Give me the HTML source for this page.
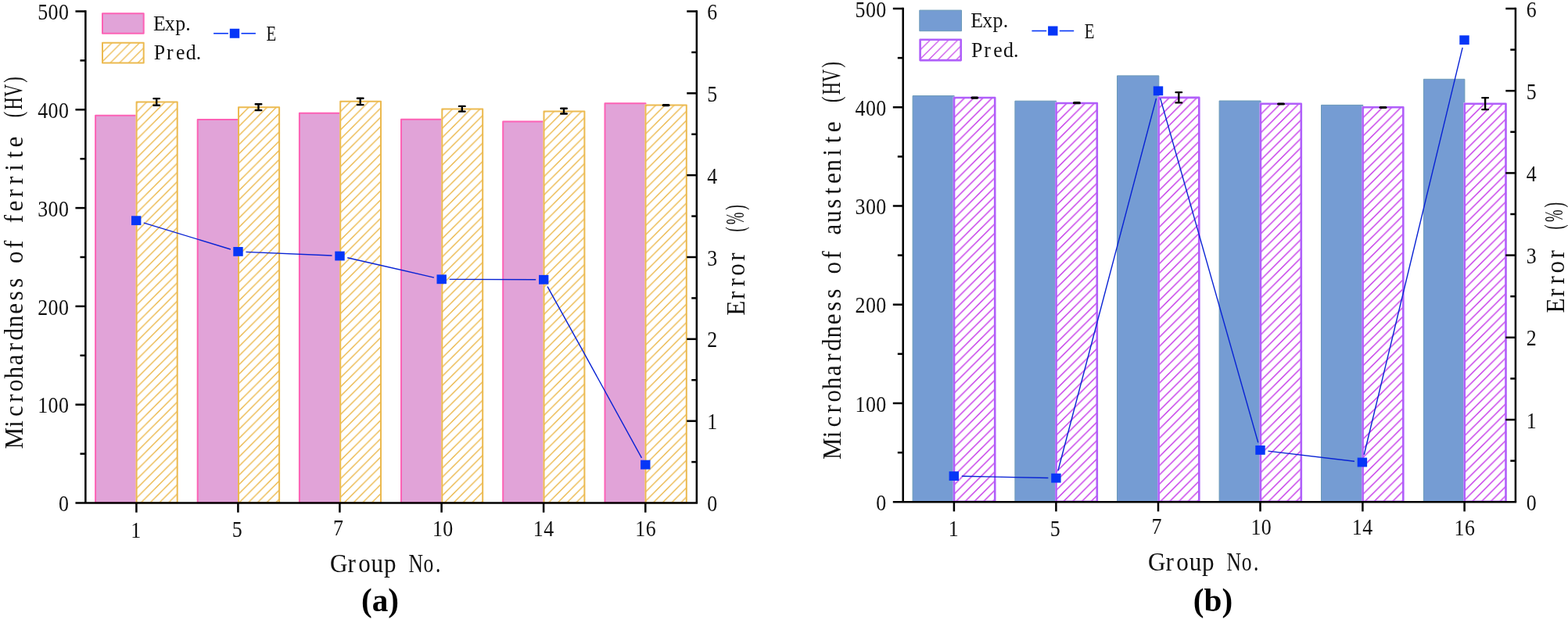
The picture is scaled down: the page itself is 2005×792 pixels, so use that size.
<!DOCTYPE html>
<html lang="en"><head><meta charset="utf-8">
<style>html,body{margin:0;padding:0;background:#fff;}body{width:2005px;height:792px;overflow:hidden;}svg{display:block;}text{font-family:'Liberation Serif', 'DejaVu Serif', serif;fill:#000;}text.m{fill:#101010;text-anchor:middle;}</style>
</head><body>
<svg width="2005" height="792" viewBox="0 0 2005 792">
<defs>
<pattern id="h0" patternUnits="userSpaceOnUse" x="173.6" y="129.4" width="11.75" height="11.75"><path d="M-2 -6.35 L-6.35 -2 M-2 5.4 L5.4 -2 M-2 17.15 L17.15 -2" stroke="#ecba50" stroke-width="1.5" fill="none"/></pattern><pattern id="h1" patternUnits="userSpaceOnUse" x="304" y="136.2" width="11.75" height="11.75"><path d="M-2 -6.35 L-6.35 -2 M-2 5.4 L5.4 -2 M-2 17.15 L17.15 -2" stroke="#ecba50" stroke-width="1.5" fill="none"/></pattern><pattern id="h2" patternUnits="userSpaceOnUse" x="434.2" y="128.7" width="11.75" height="11.75"><path d="M-2 -6.35 L-6.35 -2 M-2 5.4 L5.4 -2 M-2 17.15 L17.15 -2" stroke="#ecba50" stroke-width="1.5" fill="none"/></pattern><pattern id="h3" patternUnits="userSpaceOnUse" x="564.3" y="138.5" width="11.75" height="11.75"><path d="M-2 -6.35 L-6.35 -2 M-2 5.4 L5.4 -2 M-2 17.15 L17.15 -2" stroke="#ecba50" stroke-width="1.5" fill="none"/></pattern><pattern id="h4" patternUnits="userSpaceOnUse" x="694.5" y="141.4" width="11.75" height="11.75"><path d="M-2 -6.35 L-6.35 -2 M-2 5.4 L5.4 -2 M-2 17.15 L17.15 -2" stroke="#ecba50" stroke-width="1.5" fill="none"/></pattern><pattern id="h5" patternUnits="userSpaceOnUse" x="824.5" y="133.5" width="11.75" height="11.75"><path d="M-2 -6.35 L-6.35 -2 M-2 5.4 L5.4 -2 M-2 17.15 L17.15 -2" stroke="#ecba50" stroke-width="1.5" fill="none"/></pattern><pattern id="h6" patternUnits="userSpaceOnUse" x="130" y="54.75" width="11.75" height="11.75"><path d="M-2 -8.25 L-8.25 -2 M-2 3.5 L3.5 -2 M-2 15.25 L15.25 -2" stroke="#ecba50" stroke-width="1.3" fill="none"/></pattern><pattern id="h7" patternUnits="userSpaceOnUse" x="1218.7" y="123.7" width="11.75" height="11.75"><path d="M-2 -5.15 L-5.15 -2 M-2 6.6 L6.6 -2 M-2 18.35 L18.35 -2" stroke="#c843ea" stroke-width="1.5" fill="none"/></pattern><pattern id="h8" patternUnits="userSpaceOnUse" x="1349.2" y="130.7" width="11.75" height="11.75"><path d="M-2 -5.15 L-5.15 -2 M-2 6.6 L6.6 -2 M-2 18.35 L18.35 -2" stroke="#c843ea" stroke-width="1.5" fill="none"/></pattern><pattern id="h9" patternUnits="userSpaceOnUse" x="1480.3" y="123.6" width="11.75" height="11.75"><path d="M-2 -5.15 L-5.15 -2 M-2 6.6 L6.6 -2 M-2 18.35 L18.35 -2" stroke="#c843ea" stroke-width="1.5" fill="none"/></pattern><pattern id="h10" patternUnits="userSpaceOnUse" x="1610.6" y="131.5" width="11.75" height="11.75"><path d="M-2 -5.15 L-5.15 -2 M-2 6.6 L6.6 -2 M-2 18.35 L18.35 -2" stroke="#c843ea" stroke-width="1.5" fill="none"/></pattern><pattern id="h11" patternUnits="userSpaceOnUse" x="1741.3" y="135.9" width="11.75" height="11.75"><path d="M-2 -5.15 L-5.15 -2 M-2 6.6 L6.6 -2 M-2 18.35 L18.35 -2" stroke="#c843ea" stroke-width="1.5" fill="none"/></pattern><pattern id="h12" patternUnits="userSpaceOnUse" x="1871.4" y="131.4" width="11.75" height="11.75"><path d="M-2 -5.15 L-5.15 -2 M-2 6.6 L6.6 -2 M-2 18.35 L18.35 -2" stroke="#c843ea" stroke-width="1.5" fill="none"/></pattern><pattern id="h13" patternUnits="userSpaceOnUse" x="1175.3" y="50.5" width="11.75" height="11.75"><path d="M-2 -6.75 L-6.75 -2 M-2 5 L5 -2 M-2 16.75 L16.75 -2" stroke="#c843ea" stroke-width="1.3" fill="none"/></pattern>
</defs>
<rect x="0" y="0" width="2005" height="792" fill="#fff"/>
<rect x="122.1" y="147.7" width="52.5" height="495.6" fill="#e1a3d8" stroke="#fc62b5" stroke-width="2" stroke-linejoin="round" />
<rect x="173.6" y="129.4" width="54.1" height="514.9" fill="#fff" />
<rect x="174.6" y="130.4" width="52.1" height="512.9" fill="url(#h0)" stroke="#ecba50" stroke-width="2" stroke-linejoin="round" />
<rect x="252.7" y="152.9" width="52.3" height="490.4" fill="#e1a3d8" stroke="#fc62b5" stroke-width="2" stroke-linejoin="round" />
<rect x="304" y="136.2" width="54.1" height="508.1" fill="#fff" />
<rect x="305" y="137.2" width="52.1" height="506.1" fill="url(#h1)" stroke="#ecba50" stroke-width="2" stroke-linejoin="round" />
<rect x="382.9" y="144.8" width="52.3" height="498.5" fill="#e1a3d8" stroke="#fc62b5" stroke-width="2" stroke-linejoin="round" />
<rect x="434.2" y="128.7" width="53.8" height="515.6" fill="#fff" />
<rect x="435.2" y="129.7" width="51.8" height="513.6" fill="url(#h2)" stroke="#ecba50" stroke-width="2" stroke-linejoin="round" />
<rect x="513" y="152.7" width="52.3" height="490.6" fill="#e1a3d8" stroke="#fc62b5" stroke-width="2" stroke-linejoin="round" />
<rect x="564.3" y="138.5" width="53.9" height="505.8" fill="#fff" />
<rect x="565.3" y="139.5" width="51.9" height="503.8" fill="url(#h3)" stroke="#ecba50" stroke-width="2" stroke-linejoin="round" />
<rect x="643.2" y="155.6" width="52.3" height="487.7" fill="#e1a3d8" stroke="#fc62b5" stroke-width="2" stroke-linejoin="round" />
<rect x="694.5" y="141.4" width="53.9" height="502.9" fill="#fff" />
<rect x="695.5" y="142.4" width="51.9" height="500.9" fill="url(#h4)" stroke="#ecba50" stroke-width="2" stroke-linejoin="round" />
<rect x="773.5" y="132.3" width="52" height="511" fill="#e1a3d8" stroke="#fc62b5" stroke-width="2" stroke-linejoin="round" />
<rect x="824.5" y="133.5" width="54.3" height="510.8" fill="#fff" />
<rect x="825.5" y="134.5" width="52.3" height="508.8" fill="url(#h5)" stroke="#ecba50" stroke-width="2" stroke-linejoin="round" />
<path d="M196.4 126.1 H204 M196.4 134.7 H204 M200.2 126.1 V134.7" stroke="#000" stroke-width="2.4" stroke-linecap="round" fill="none"/>
<path d="M326.7 133.2 H334.3 M326.7 141.1 H334.3 M330.5 133.2 V141.1" stroke="#000" stroke-width="2.4" stroke-linecap="round" fill="none"/>
<path d="M456.9 125.7 H464.5 M456.9 134.1 H464.5 M460.7 125.7 V134.1" stroke="#000" stroke-width="2.4" stroke-linecap="round" fill="none"/>
<path d="M587 135.9 H594.6 M587 142.6 H594.6 M590.8 135.9 V142.6" stroke="#000" stroke-width="2.4" stroke-linecap="round" fill="none"/>
<path d="M717.2 138.8 H724.8 M717.2 145.5 H724.8 M721 138.8 V145.5" stroke="#000" stroke-width="2.4" stroke-linecap="round" fill="none"/>
<line x1="848.2" y1="134.6" x2="855" y2="134.6" stroke="#000" stroke-width="3.2" stroke-linecap="round"/>
<line x1="109.35" y1="13.25" x2="109.35" y2="643.5" stroke="#000" stroke-width="2.5" />
<line x1="890.85" y1="13.25" x2="890.85" y2="643.5" stroke="#000" stroke-width="2.5" />
<line x1="96.45" y1="643.5" x2="892.1" y2="643.5" stroke="#000" stroke-width="2.5" />
<line x1="102.45" y1="580.6" x2="109.35" y2="580.6" stroke="#000" stroke-width="2.5" />
<line x1="96.45" y1="517.7" x2="109.35" y2="517.7" stroke="#000" stroke-width="2.5" />
<line x1="102.45" y1="454.8" x2="109.35" y2="454.8" stroke="#000" stroke-width="2.5" />
<line x1="96.45" y1="391.9" x2="109.35" y2="391.9" stroke="#000" stroke-width="2.5" />
<line x1="102.45" y1="329" x2="109.35" y2="329" stroke="#000" stroke-width="2.5" />
<line x1="96.45" y1="266.1" x2="109.35" y2="266.1" stroke="#000" stroke-width="2.5" />
<line x1="102.45" y1="203.2" x2="109.35" y2="203.2" stroke="#000" stroke-width="2.5" />
<line x1="96.45" y1="140.3" x2="109.35" y2="140.3" stroke="#000" stroke-width="2.5" />
<line x1="102.45" y1="77.4" x2="109.35" y2="77.4" stroke="#000" stroke-width="2.5" />
<line x1="96.45" y1="14.5" x2="109.35" y2="14.5" stroke="#000" stroke-width="2.5" />
<line x1="884.25" y1="591.08" x2="890.85" y2="591.08" stroke="#000" stroke-width="2.5" />
<line x1="878.25" y1="538.67" x2="890.85" y2="538.67" stroke="#000" stroke-width="2.5" />
<line x1="884.25" y1="486.25" x2="890.85" y2="486.25" stroke="#000" stroke-width="2.5" />
<line x1="878.25" y1="433.83" x2="890.85" y2="433.83" stroke="#000" stroke-width="2.5" />
<line x1="884.25" y1="381.42" x2="890.85" y2="381.42" stroke="#000" stroke-width="2.5" />
<line x1="878.25" y1="329" x2="890.85" y2="329" stroke="#000" stroke-width="2.5" />
<line x1="884.25" y1="276.58" x2="890.85" y2="276.58" stroke="#000" stroke-width="2.5" />
<line x1="878.25" y1="224.17" x2="890.85" y2="224.17" stroke="#000" stroke-width="2.5" />
<line x1="884.25" y1="171.75" x2="890.85" y2="171.75" stroke="#000" stroke-width="2.5" />
<line x1="878.25" y1="119.33" x2="890.85" y2="119.33" stroke="#000" stroke-width="2.5" />
<line x1="884.25" y1="66.92" x2="890.85" y2="66.92" stroke="#000" stroke-width="2.5" />
<line x1="878.25" y1="14.5" x2="890.85" y2="14.5" stroke="#000" stroke-width="2.5" />
<line x1="174.4" y1="643.5" x2="174.4" y2="655.7" stroke="#000" stroke-width="2.5" />
<line x1="304.4" y1="643.5" x2="304.4" y2="655.7" stroke="#000" stroke-width="2.5" />
<line x1="434.4" y1="643.5" x2="434.4" y2="655.7" stroke="#000" stroke-width="2.5" />
<line x1="564.6" y1="643.5" x2="564.6" y2="655.7" stroke="#000" stroke-width="2.5" />
<line x1="695.1" y1="643.5" x2="695.1" y2="655.7" stroke="#000" stroke-width="2.5" />
<line x1="825.3" y1="643.5" x2="825.3" y2="655.7" stroke="#000" stroke-width="2.5" />
<line x1="183.77" y1="285.11" x2="294.93" y2="318.99" stroke="#0822d4" stroke-width="1.4" />
<line x1="314.49" y1="322.33" x2="424.51" y2="327.07" stroke="#0822d4" stroke-width="1.4" />
<line x1="444.25" y1="329.73" x2="554.95" y2="355.07" stroke="#0822d4" stroke-width="1.4" />
<line x1="574.7" y1="357.34" x2="685.2" y2="357.76" stroke="#0822d4" stroke-width="1.4" />
<line x1="700.02" y1="366.56" x2="820.48" y2="585.84" stroke="#0822d4" stroke-width="1.4" />
<rect x="168" y="276.3" width="12.4" height="11.8" fill="#0636f7"/>
<rect x="298.3" y="316" width="12.4" height="11.8" fill="#0636f7"/>
<rect x="428.3" y="321.6" width="12.4" height="11.8" fill="#0636f7"/>
<rect x="558.5" y="351.4" width="12.4" height="11.8" fill="#0636f7"/>
<rect x="689" y="351.9" width="12.4" height="11.8" fill="#0636f7"/>
<rect x="819.1" y="588.7" width="12.4" height="11.8" fill="#0636f7"/>
<text class="m" transform="translate(81.45 654.1) scale(0.88 1)" x="0" y="0" font-size="29.4">0</text>
<text class="m" transform="translate(54.65 528.3) scale(0.88 1)" x="0 15.23 30.45" y="0" font-size="29.4">100</text>
<text class="m" transform="translate(54.65 402.5) scale(0.88 1)" x="0 15.23 30.45" y="0" font-size="29.4">200</text>
<text class="m" transform="translate(54.65 276.7) scale(0.88 1)" x="0 15.23 30.45" y="0" font-size="29.4">300</text>
<text class="m" transform="translate(54.65 150.9) scale(0.88 1)" x="0 15.23 30.45" y="0" font-size="29.4">400</text>
<text class="m" transform="translate(54.65 25.1) scale(0.88 1)" x="0 15.23 30.45" y="0" font-size="29.4">500</text>
<text class="m" transform="translate(910.65 654.1) scale(0.88 1)" x="0" y="0" font-size="29.4">0</text>
<text class="m" transform="translate(910.65 549.27) scale(0.88 1)" x="0" y="0" font-size="29.4">1</text>
<text class="m" transform="translate(910.65 444.43) scale(0.88 1)" x="0" y="0" font-size="29.4">2</text>
<text class="m" transform="translate(910.65 339.6) scale(0.88 1)" x="0" y="0" font-size="29.4">3</text>
<text class="m" transform="translate(910.65 234.77) scale(0.88 1)" x="0" y="0" font-size="29.4">4</text>
<text class="m" transform="translate(910.65 129.93) scale(0.88 1)" x="0" y="0" font-size="29.4">5</text>
<text class="m" transform="translate(910.65 25.1) scale(0.88 1)" x="0" y="0" font-size="29.4">6</text>
<text class="m" transform="translate(173.7 687.8) scale(0.88 1)" x="0" y="0" font-size="29.4">1</text>
<text class="m" transform="translate(303.1 687) scale(0.88 1)" x="0" y="0" font-size="29.4">5</text>
<text class="m" transform="translate(432.4 685.2) scale(0.88 1)" x="0" y="0" font-size="29.4">7</text>
<text class="m" transform="translate(559.4 685.9) scale(0.88 1)" x="0 15.23" y="0" font-size="29.4">10</text>
<text class="m" transform="translate(688.3 686) scale(0.88 1)" x="0 15.23" y="0" font-size="29.4">14</text>
<text class="m" transform="translate(818.8 686) scale(0.88 1)" x="0 15.23" y="0" font-size="29.4">16</text>
<text class="m" transform="translate(433.2 732.2) scale(0.93 1)" x="0 17.63 35.27 52.9 70.54 88.17 105.81 123.44 136.49" y="0" font-size="33.5">Group <tspan textLength="40.44" lengthAdjust="spacingAndGlyphs">No.</tspan></text>
<text class="m" transform="translate(29.4 558.8) rotate(-90) scale(0.93 1)" x="-1.94 17.63 35.27 52.9 70.54 88.17 105.81 123.44 141.08 158.71 176.34 193.98 211.61 229.25 246.88 264.52 282.15 299.78 317.42 335.05 352.69 370.32 387.96 405.59 423.23 443.33 458.49 476.13 491.29" y="0" font-size="33.5">Microhardness of ferrite <tspan dy="-1.6" textLength="50.9" lengthAdjust="spacingAndGlyphs">(HV)</tspan></text>
<text class="m" transform="translate(952.3 394.2) rotate(-90) scale(0.93 1)" x="0 17.63 35.27 52.9 70.54 88.17 108.28 123.44 138.61" y="0" font-size="33.5">Error <tspan dy="-1.6" textLength="30.13" lengthAdjust="spacingAndGlyphs">(%)</tspan></text>
<text x="486" y="782.4" font-size="41.2" font-weight="bold" text-anchor="middle">(a)</text>
<rect x="131" y="17.25" width="52.7" height="25.6" fill="#e1a3d8" stroke="#fc62b5" stroke-width="2" stroke-linejoin="round" />
<rect x="131" y="54.75" width="52.7" height="25.7" fill="url(#h6)" stroke="#ecba50" stroke-width="2" stroke-linejoin="round" />
<text class="m" transform="translate(203.9 38.75) scale(0.93 1)" x="0 14.41 28.82 39.48" y="0" font-size="27.8">Exp.</text>
<text class="m" transform="translate(203.9 76.25) scale(0.93 1)" x="0 14.41 28.82 43.23 53.89" y="0" font-size="27.8">Pred.</text>
<line x1="273.1" y1="42.75" x2="291.9" y2="42.75" stroke="#0636f7" stroke-width="1.6" />
<line x1="308.5" y1="42.75" x2="326.9" y2="42.75" stroke="#0636f7" stroke-width="1.6" />
<rect x="293.8" y="36.75" width="12.4" height="12" fill="#0636f7"/>
<text class="m" transform="translate(346.9 52.25) scale(0.75 1)" x="0" y="0" font-size="27.8">E</text>
<rect x="1167.1" y="122.6" width="53.1" height="519.9" fill="#759cd3" stroke="#6b99b8" stroke-width="1" stroke-linejoin="round" />
<rect x="1218.7" y="123.7" width="54.8" height="519.3" fill="#fff" />
<rect x="1220" y="125" width="52.2" height="516.7" fill="url(#h7)" stroke="#b05ffa" stroke-width="2.6" stroke-linejoin="round" />
<rect x="1297.9" y="129.2" width="52.8" height="513.3" fill="#759cd3" stroke="#6b99b8" stroke-width="1" stroke-linejoin="round" />
<rect x="1349.2" y="130.7" width="54.9" height="512.3" fill="#fff" />
<rect x="1350.5" y="132" width="52.3" height="509.7" fill="url(#h8)" stroke="#b05ffa" stroke-width="2.6" stroke-linejoin="round" />
<rect x="1428.5" y="96.9" width="53.3" height="545.6" fill="#759cd3" stroke="#6b99b8" stroke-width="1" stroke-linejoin="round" />
<rect x="1480.3" y="123.6" width="54.3" height="519.4" fill="#fff" />
<rect x="1481.6" y="124.9" width="51.7" height="516.8" fill="url(#h9)" stroke="#b05ffa" stroke-width="2.6" stroke-linejoin="round" />
<rect x="1559.1" y="129" width="53" height="513.5" fill="#759cd3" stroke="#6b99b8" stroke-width="1" stroke-linejoin="round" />
<rect x="1610.6" y="131.5" width="54.5" height="511.5" fill="#fff" />
<rect x="1611.9" y="132.8" width="51.9" height="508.9" fill="url(#h10)" stroke="#b05ffa" stroke-width="2.6" stroke-linejoin="round" />
<rect x="1689.5" y="134.4" width="53.3" height="508.1" fill="#759cd3" stroke="#6b99b8" stroke-width="1" stroke-linejoin="round" />
<rect x="1741.3" y="135.9" width="54.3" height="507.1" fill="#fff" />
<rect x="1742.6" y="137.2" width="51.7" height="504.5" fill="url(#h11)" stroke="#b05ffa" stroke-width="2.6" stroke-linejoin="round" />
<rect x="1820.4" y="101.3" width="52.5" height="541.2" fill="#759cd3" stroke="#6b99b8" stroke-width="1" stroke-linejoin="round" />
<rect x="1871.4" y="131.4" width="55.4" height="511.6" fill="#fff" />
<rect x="1872.7" y="132.7" width="52.8" height="509" fill="url(#h12)" stroke="#b05ffa" stroke-width="2.6" stroke-linejoin="round" />
<line x1="1242.9" y1="125.1" x2="1249.7" y2="125.1" stroke="#000" stroke-width="3.2" stroke-linecap="round"/>
<line x1="1373.5" y1="131.7" x2="1380.3" y2="131.7" stroke="#000" stroke-width="3.2" stroke-linecap="round"/>
<path d="M1503.5 118.1 H1511.1 M1503.5 131.4 H1511.1 M1507.3 118.1 V131.4" stroke="#000" stroke-width="2.4" stroke-linecap="round" fill="none"/>
<line x1="1634.6" y1="133" x2="1641.4" y2="133" stroke="#000" stroke-width="3.2" stroke-linecap="round"/>
<line x1="1765.1" y1="137.5" x2="1771.9" y2="137.5" stroke="#000" stroke-width="3.2" stroke-linecap="round"/>
<path d="M1895.3 125.1 H1902.9 M1895.3 140.1 H1902.9 M1899.1 125.1 V140.1" stroke="#000" stroke-width="2.4" stroke-linecap="round" fill="none"/>
<line x1="1154.7" y1="9.75" x2="1154.7" y2="642.2" stroke="#000" stroke-width="2.5" />
<line x1="1937.9" y1="9.75" x2="1937.9" y2="642.2" stroke="#000" stroke-width="2.5" />
<line x1="1141.8" y1="642.2" x2="1939.15" y2="642.2" stroke="#000" stroke-width="2.5" />
<line x1="1147.8" y1="579.08" x2="1154.7" y2="579.08" stroke="#000" stroke-width="2.5" />
<line x1="1141.8" y1="515.96" x2="1154.7" y2="515.96" stroke="#000" stroke-width="2.5" />
<line x1="1147.8" y1="452.84" x2="1154.7" y2="452.84" stroke="#000" stroke-width="2.5" />
<line x1="1141.8" y1="389.72" x2="1154.7" y2="389.72" stroke="#000" stroke-width="2.5" />
<line x1="1147.8" y1="326.6" x2="1154.7" y2="326.6" stroke="#000" stroke-width="2.5" />
<line x1="1141.8" y1="263.48" x2="1154.7" y2="263.48" stroke="#000" stroke-width="2.5" />
<line x1="1147.8" y1="200.36" x2="1154.7" y2="200.36" stroke="#000" stroke-width="2.5" />
<line x1="1141.8" y1="137.24" x2="1154.7" y2="137.24" stroke="#000" stroke-width="2.5" />
<line x1="1147.8" y1="74.12" x2="1154.7" y2="74.12" stroke="#000" stroke-width="2.5" />
<line x1="1141.8" y1="11" x2="1154.7" y2="11" stroke="#000" stroke-width="2.5" />
<line x1="1931.3" y1="589.6" x2="1937.9" y2="589.6" stroke="#000" stroke-width="2.5" />
<line x1="1925.3" y1="537" x2="1937.9" y2="537" stroke="#000" stroke-width="2.5" />
<line x1="1931.3" y1="484.4" x2="1937.9" y2="484.4" stroke="#000" stroke-width="2.5" />
<line x1="1925.3" y1="431.8" x2="1937.9" y2="431.8" stroke="#000" stroke-width="2.5" />
<line x1="1931.3" y1="379.2" x2="1937.9" y2="379.2" stroke="#000" stroke-width="2.5" />
<line x1="1925.3" y1="326.6" x2="1937.9" y2="326.6" stroke="#000" stroke-width="2.5" />
<line x1="1931.3" y1="274" x2="1937.9" y2="274" stroke="#000" stroke-width="2.5" />
<line x1="1925.3" y1="221.4" x2="1937.9" y2="221.4" stroke="#000" stroke-width="2.5" />
<line x1="1931.3" y1="168.8" x2="1937.9" y2="168.8" stroke="#000" stroke-width="2.5" />
<line x1="1925.3" y1="116.2" x2="1937.9" y2="116.2" stroke="#000" stroke-width="2.5" />
<line x1="1931.3" y1="63.6" x2="1937.9" y2="63.6" stroke="#000" stroke-width="2.5" />
<line x1="1925.3" y1="11" x2="1937.9" y2="11" stroke="#000" stroke-width="2.5" />
<line x1="1219.9" y1="642.2" x2="1219.9" y2="654.4" stroke="#000" stroke-width="2.5" />
<line x1="1350.4" y1="642.2" x2="1350.4" y2="654.4" stroke="#000" stroke-width="2.5" />
<line x1="1481" y1="642.2" x2="1481" y2="654.4" stroke="#000" stroke-width="2.5" />
<line x1="1611.5" y1="642.2" x2="1611.5" y2="654.4" stroke="#000" stroke-width="2.5" />
<line x1="1742.4" y1="642.2" x2="1742.4" y2="654.4" stroke="#000" stroke-width="2.5" />
<line x1="1872.6" y1="642.2" x2="1872.6" y2="654.4" stroke="#000" stroke-width="2.5" />
<line x1="1229.8" y1="609.3" x2="1340.4" y2="611.5" stroke="#0822d4" stroke-width="1.4" />
<line x1="1352.95" y1="602.03" x2="1478.45" y2="125.97" stroke="#0822d4" stroke-width="1.4" />
<line x1="1483.73" y1="125.92" x2="1608.77" y2="566.28" stroke="#0822d4" stroke-width="1.4" />
<line x1="1621.43" y1="577.09" x2="1731.97" y2="590.31" stroke="#0822d4" stroke-width="1.4" />
<line x1="1744.25" y1="581.78" x2="1870.15" y2="60.92" stroke="#0822d4" stroke-width="1.4" />
<rect x="1213.6" y="603.2" width="12.4" height="11.8" fill="#0636f7"/>
<rect x="1344.2" y="605.8" width="12.4" height="11.8" fill="#0636f7"/>
<rect x="1474.8" y="110.4" width="12.4" height="11.8" fill="#0636f7"/>
<rect x="1605.3" y="570" width="12.4" height="11.8" fill="#0636f7"/>
<rect x="1735.7" y="585.6" width="12.4" height="11.8" fill="#0636f7"/>
<rect x="1866.3" y="45.3" width="12.4" height="11.8" fill="#0636f7"/>
<text class="m" transform="translate(1126.8 652.8) scale(0.88 1)" x="0" y="0" font-size="29.4">0</text>
<text class="m" transform="translate(1100 526.56) scale(0.88 1)" x="0 15.23 30.45" y="0" font-size="29.4">100</text>
<text class="m" transform="translate(1100 400.32) scale(0.88 1)" x="0 15.23 30.45" y="0" font-size="29.4">200</text>
<text class="m" transform="translate(1100 274.08) scale(0.88 1)" x="0 15.23 30.45" y="0" font-size="29.4">300</text>
<text class="m" transform="translate(1100 147.84) scale(0.88 1)" x="0 15.23 30.45" y="0" font-size="29.4">400</text>
<text class="m" transform="translate(1100 21.6) scale(0.88 1)" x="0 15.23 30.45" y="0" font-size="29.4">500</text>
<text class="m" transform="translate(1958.2 652.8) scale(0.88 1)" x="0" y="0" font-size="29.4">0</text>
<text class="m" transform="translate(1958.2 547.6) scale(0.88 1)" x="0" y="0" font-size="29.4">1</text>
<text class="m" transform="translate(1958.2 442.4) scale(0.88 1)" x="0" y="0" font-size="29.4">2</text>
<text class="m" transform="translate(1958.2 337.2) scale(0.88 1)" x="0" y="0" font-size="29.4">3</text>
<text class="m" transform="translate(1958.2 232) scale(0.88 1)" x="0" y="0" font-size="29.4">4</text>
<text class="m" transform="translate(1958.2 126.8) scale(0.88 1)" x="0" y="0" font-size="29.4">5</text>
<text class="m" transform="translate(1958.2 21.6) scale(0.88 1)" x="0" y="0" font-size="29.4">6</text>
<text class="m" transform="translate(1219.2 686.3) scale(0.88 1)" x="0" y="0" font-size="29.4">1</text>
<text class="m" transform="translate(1349.1 685.5) scale(0.88 1)" x="0" y="0" font-size="29.4">5</text>
<text class="m" transform="translate(1479 683.2) scale(0.88 1)" x="0" y="0" font-size="29.4">7</text>
<text class="m" transform="translate(1605.9 683.8) scale(0.88 1)" x="0 15.23" y="0" font-size="29.4">10</text>
<text class="m" transform="translate(1735.3 684) scale(0.88 1)" x="0 15.23" y="0" font-size="29.4">14</text>
<text class="m" transform="translate(1866 684.5) scale(0.88 1)" x="0 15.23" y="0" font-size="29.4">16</text>
<text class="m" transform="translate(1479.3 729.9) scale(0.93 1)" x="0 17.63 35.27 52.9 70.54 88.17 105.81 123.44 136.49" y="0" font-size="33.5">Group <tspan textLength="40.44" lengthAdjust="spacingAndGlyphs">No.</tspan></text>
<text class="m" transform="translate(1075.2 572.4) rotate(-90) scale(0.93 1)" x="-1.94 17.63 35.27 52.9 70.54 88.17 105.81 123.44 141.08 158.71 176.34 193.98 211.61 229.25 246.88 264.52 282.15 299.78 317.42 335.05 352.69 370.32 387.96 405.59 423.23 440.86 458.49 478.6 493.76 511.4 526.56" y="0" font-size="33.5">Microhardness of austenite <tspan dy="-1.6" textLength="50.9" lengthAdjust="spacingAndGlyphs">(HV)</tspan></text>
<text class="m" transform="translate(1999.6 391) rotate(-90) scale(0.93 1)" x="0 17.63 35.27 52.9 70.54 88.17 108.28 123.44 138.61" y="0" font-size="33.5">Error <tspan dy="-1.6" textLength="30.13" lengthAdjust="spacingAndGlyphs">(%)</tspan></text>
<text x="1551" y="782.4" font-size="41.2" font-weight="bold" text-anchor="middle">(b)</text>
<rect x="1175.8" y="13.1" width="53.7" height="26.6" fill="#759cd3" stroke="#6b99b8" stroke-width="1" stroke-linejoin="round" />
<rect x="1176.6" y="50.8" width="52.1" height="26.3" fill="url(#h13)" stroke="#b05ffa" stroke-width="2.6" stroke-linejoin="round" />
<text class="m" transform="translate(1249.2 35.1) scale(0.93 1)" x="0 14.41 28.82 39.48" y="0" font-size="27.8">Exp.</text>
<text class="m" transform="translate(1249.2 72.6) scale(0.93 1)" x="0 14.41 28.82 43.23 53.89" y="0" font-size="27.8">Pred.</text>
<line x1="1319.4" y1="39.5" x2="1338.2" y2="39.5" stroke="#0636f7" stroke-width="1.6" />
<line x1="1354.8" y1="39.5" x2="1373.2" y2="39.5" stroke="#0636f7" stroke-width="1.6" />
<rect x="1340.1" y="33.5" width="12.4" height="12" fill="#0636f7"/>
<text class="m" transform="translate(1393.2 49) scale(0.75 1)" x="0" y="0" font-size="27.8">E</text>
</svg>
</body></html>
